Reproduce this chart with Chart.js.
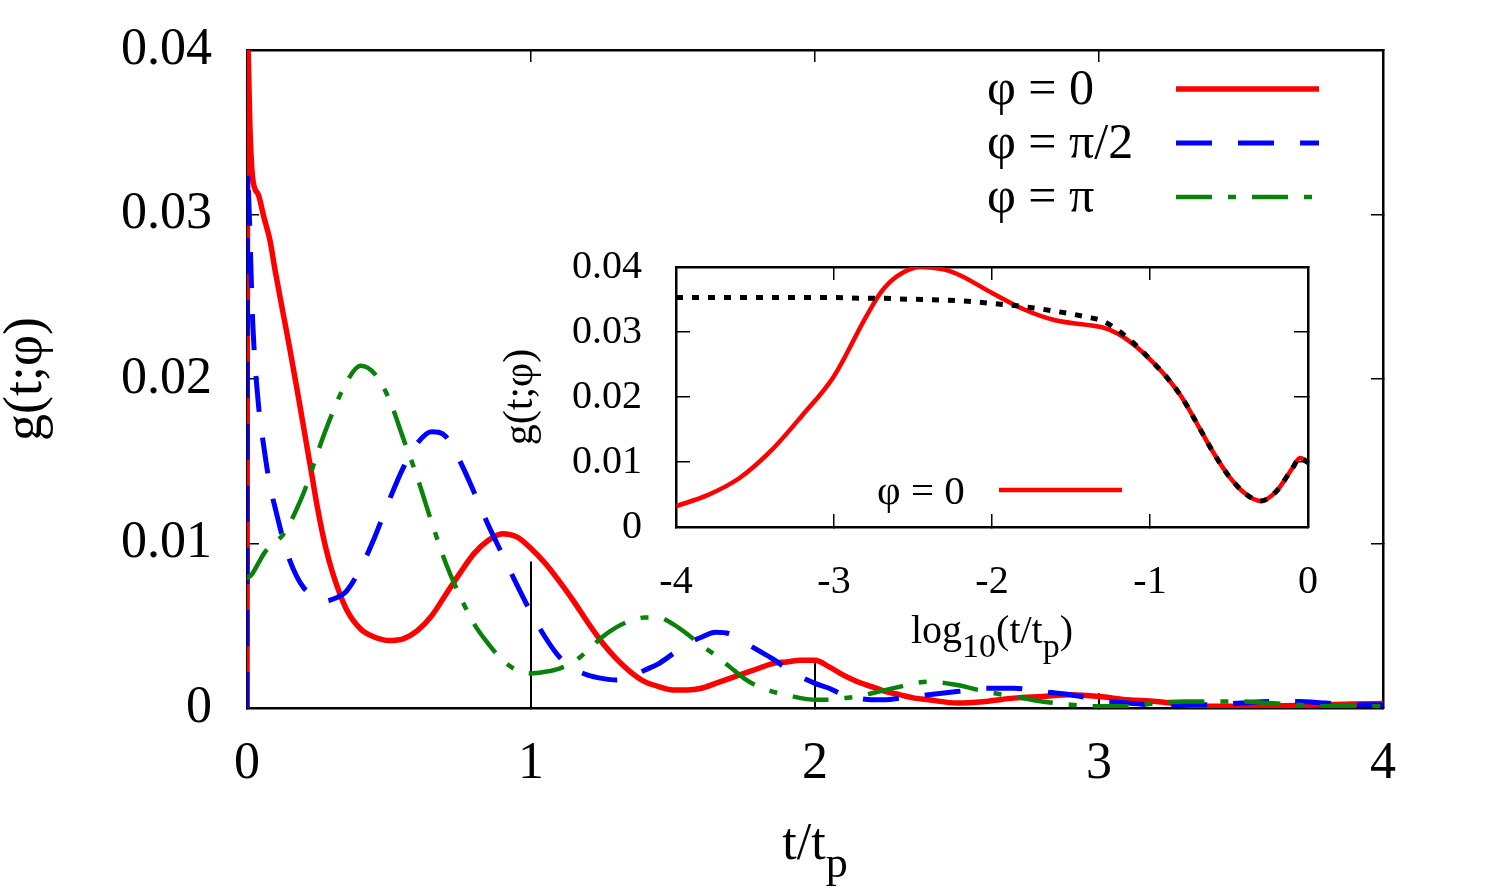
<!DOCTYPE html>
<html><head><meta charset="utf-8">
<script src="https://cdn.jsdelivr.net/npm/chart.js@4/dist/chart.umd.min.js"></script>
<style>
html,body{margin:0;padding:0;background:#fff;}
#wrap{position:relative;width:1510px;height:892px;overflow:hidden;background:#fff;}
#mainCanvas{position:absolute;left:0;top:0;}
#insetCanvas{position:absolute;left:480px;top:240px;}
.ttl{position:absolute;font-family:'Liberation Serif','Times New Roman',serif;color:#000;line-height:1;white-space:nowrap;transform:translateX(-50%);}
.ttl sub{font-size:0.85em;vertical-align:-0.4em;line-height:0;}
</style></head>
<body><div id="wrap">
<canvas id="mainCanvas" width="1510" height="892"></canvas>
<canvas id="insetCanvas" width="860" height="440"></canvas>
<div class="ttl" style="left:815px;top:816px;font-size:52px;">t/t<sub>p</sub></div>
<div class="ttl" style="left:992px;top:610px;font-size:40px;">log<sub>10</sub>(t/t<sub>p</sub>)</div>
</div>
<script>
const FONT = "'Liberation Serif', 'Times New Roman', serif";

// ---------- main panel data ----------
const tMain = [0, 0.001, 0.002, 0.0035, 0.006, 0.01, 0.02, 0.04, 0.06, 0.08, 0.1, 0.125, 0.15, 0.175, 0.2, 0.225, 0.25, 0.275, 0.3,
  0.35, 0.4, 0.45, 0.5, 0.55, 0.6, 0.65, 0.7, 0.75, 0.8, 0.85, 0.9, 0.95, 1.0, 1.05, 1.1, 1.15, 1.2, 1.25, 1.3, 1.35, 1.4,
  1.45, 1.5, 1.55, 1.6, 1.65, 1.7, 1.75, 1.8, 1.85, 1.9, 1.95, 2.0, 2.05, 2.1, 2.15, 2.2, 2.25, 2.3, 2.35, 2.4,
  2.5, 2.6, 2.7, 2.8, 2.9, 3.0, 3.1, 3.2, 3.3, 3.4, 3.5, 3.6, 3.7, 3.8, 3.9, 4.0];

const gPhi0 = [0, 0.022, 0.034, 0.0400, 0.0385, 0.0355, 0.0322, 0.0312, 0.0298, 0.0285, 0.0265, 0.0242, 0.0219, 0.0195, 0.0170, 0.0145, 0.0120, 0.0099, 0.0083,
  0.0060, 0.0048, 0.0043, 0.0041, 0.0042, 0.0047, 0.0056, 0.0069, 0.0082, 0.0094, 0.0102, 0.0106, 0.0104, 0.0097, 0.0088, 0.0077,
  0.0065, 0.0052, 0.0040, 0.0030, 0.0022, 0.0016, 0.0013, 0.0011, 0.0011, 0.0012, 0.0015, 0.0018, 0.0021, 0.0024, 0.0027, 0.0028,
  0.0029, 0.0029, 0.0025, 0.0020, 0.0016, 0.0013, 0.0010, 0.0008, 0.0006, 0.0005,
  0.0003, 0.0004, 0.0006, 0.0007, 0.0008, 0.0007, 0.0005, 0.0004, 0.0002, 0.0001, 0.0001, 0.00012, 0.00015, 0.0002, 0.00025, 0.00027];

const gPhiHalfPi = [0, 0.020, 0.031, 0.0327, 0.031, 0.029, 0.0235, 0.0185, 0.0158, 0.0136, 0.0121, 0.0104, 0.0090, 0.0080, 0.0073, 0.0069, 0.0066, 0.0065, 0.0066,
  0.0071, 0.0085, 0.0104, 0.0126, 0.0146, 0.0161, 0.0168, 0.0165, 0.0150, 0.0131, 0.0111, 0.0093, 0.0075, 0.0058,
  0.0043, 0.0031, 0.0024, 0.0020, 0.0018, 0.0017, 0.0019, 0.0023, 0.0027, 0.0033, 0.0039, 0.0043, 0.0046, 0.0045,
  0.0040, 0.0035, 0.0030, 0.0024, 0.0019, 0.0015, 0.0012, 0.0008, 0.0006, 0.0005, 0.0005, 0.0006, 0.0007, 0.0008,
  0.0010, 0.0012, 0.0012, 0.0010, 0.0008, 0.0005, 0.0003, 0.0002, 0.0002, 0.0002, 0.0003, 0.0004, 0.0004, 0.0003, 0.0002, 0.0002];

const gPhiPi = [0.0079, 0.0079, 0.0079, 0.0079, 0.0080, 0.0080, 0.0082, 0.0088, 0.0094, 0.0098, 0.0101, 0.0105, 0.0112, 0.0121, 0.0131, 0.0143, 0.0156, 0.0168, 0.0179,
  0.0198, 0.0208, 0.0203, 0.0188, 0.0164, 0.0140, 0.0113, 0.0088, 0.0068, 0.0051, 0.0039, 0.0029, 0.0023, 0.0021,
  0.0022, 0.0024, 0.0028, 0.0035, 0.0043, 0.0049, 0.0053, 0.0055, 0.0055, 0.0051, 0.0045, 0.0038, 0.0032, 0.0025,
  0.0018, 0.0013, 0.0010, 0.0008, 0.0006, 0.0005, 0.0005, 0.0006, 0.0007, 0.0009, 0.0011, 0.0013, 0.0015, 0.0016,
  0.0014, 0.0010, 0.0007, 0.0004, 0.0002, 0.0001, 0.0001, 0.0003, 0.0004, 0.0004, 0.0004, 0.0003, 0.0002, 0.0001, 0.0001, 0.0001];

const dropT = [1, 2, 3];
const dropG = [0.0089, 0.0029, 0.0009];

const xTicksMain = ['0', '1', '2', '3', '4'];
const yTicksMain = ['0', '0.01', '0.02', '0.03', '0.04'];
const legendMain = ['φ = 0', 'φ = π/2', 'φ = π'];

// ---------- inset data ----------
const logT = [-4, -3.8, -3.6, -3.4, -3.2, -3.0, -2.8, -2.7, -2.6, -2.45, -2.3, -2.2, -2.0, -1.8, -1.6, -1.4, -1.3, -1.2, -1.1, -1.0,
  -0.9, -0.8, -0.7, -0.6, -0.5, -0.4, -0.3, -0.2, -0.1, -0.05, 0];
const gInsetPhi0 = [0.0032, 0.0049, 0.0075, 0.0117, 0.0172, 0.0232, 0.0322, 0.0362, 0.0386, 0.0400, 0.0396, 0.0387, 0.0360, 0.0335, 0.0318, 0.0311, 0.0307, 0.0297, 0.0280, 0.0258,
  0.0232, 0.0200, 0.0158, 0.0115, 0.0078, 0.0052, 0.0040, 0.0055, 0.0090, 0.0106, 0.0099];
const gInsetFit = [0.0353, 0.0353, 0.0353, 0.0353, 0.0353, 0.0353, 0.0352, 0.0352, 0.0351, 0.0350, 0.0349, 0.0348, 0.0344, 0.0339, 0.0332, 0.0323, 0.0317, 0.0302, 0.0282, 0.0258,
  0.0232, 0.0200, 0.0158, 0.0115, 0.0078, 0.0052, 0.0040, 0.0055, 0.0090, 0.0106, 0.0099];
const xTicksInset = ['-4', '-3', '-2', '-1', '0'];
const yTicksInset = ['0', '0.01', '0.02', '0.03', '0.04'];
const legendInset = ['φ = 0'];

// ---------- helpers ----------
function pts(xs, ys) { return xs.map((x, i) => ({x: x, y: ys[i]})); }
function dropPts() {
  const out = [];
  dropT.forEach((t, i) => { out.push({x: t, y: 0}); out.push({x: t, y: dropG[i]}); out.push({x: t, y: null}); });
  return out;
}
function lineLegend(id, cfg) {
  return {
    id: id,
    afterDatasetsDraw(chart) {
      const ctx = chart.ctx;
      cfg.items.forEach((it, k) => {
        const ds = chart.data.datasets[it.ds];
        const y = cfg.y0 + k * cfg.dy;
        ctx.save();
        ctx.font = cfg.font;
        ctx.fillStyle = '#000';
        ctx.textAlign = 'left';
        ctx.textBaseline = 'middle';
        ctx.fillText(it.text, cfg.textX, y + cfg.textDy);
        ctx.strokeStyle = ds.borderColor;
        ctx.lineWidth = ds.borderWidth;
        ctx.lineCap = 'butt';
        ctx.setLineDash(ds.borderDash || []);
        ctx.beginPath();
        ctx.moveTo(cfg.x1, y);
        ctx.lineTo(cfg.x2, y);
        ctx.stroke();
        ctx.restore();
      });
    }
  };
}
function fixSize(s, w, h) {
  if (w !== null) s.width = w;
  if (h !== null) s.height = h;
  s.paddingLeft = 0; s.paddingRight = 0; s.paddingTop = 0; s.paddingBottom = 0;
}
function frameAxis(pos, min, max, step, tl, borderW) {
  return {
    type: 'linear', position: pos, min: min, max: max,
    ticks: {display: false, stepSize: step, autoSkip: false},
    grid: {display: true, drawOnChartArea: false, drawTicks: true, tickLength: tl, color: '#000', lineWidth: 1.5},
    border: {display: true, color: '#000', width: borderW},
    afterFit: (s) => { if (pos === 'top') fixSize(s, null, 0); else fixSize(s, 0, null); }
  };
}

// ---------- main chart ----------
new Chart(document.getElementById('mainCanvas'), {
  type: 'line',
  data: {
    datasets: [
      {label: legendMain[0], data: pts(tMain, gPhi0), borderColor: '#ff0000', backgroundColor: 'transparent', borderWidth: 5.5, order: 3},
      {label: legendMain[1], data: pts(tMain, gPhiHalfPi), borderColor: '#0000ff', backgroundColor: 'transparent', borderWidth: 5, borderDash: [36, 26], order: 2},
      {label: legendMain[2], data: pts(tMain, gPhiPi), borderColor: '#0a820a', backgroundColor: 'transparent', borderWidth: 4.5, borderDash: [36, 16, 8, 16], order: 1},
      {label: 'marks', data: dropPts(), borderColor: '#000', backgroundColor: 'transparent', borderWidth: 2, order: 4, tension: 0, cubicInterpolationMode: 'default', spanGaps: false}
    ]
  },
  options: {
    responsive: false, animation: false, devicePixelRatio: 1, events: [],
    elements: {
      point: {radius: 0, hoverRadius: 0},
      line: {cubicInterpolationMode: 'monotone', borderCapStyle: 'butt', borderJoinStyle: 'round', fill: false}
    },
    layout: {padding: {left: 0, top: 50, right: 127, bottom: 0}},
    plugins: {legend: {display: false}, tooltip: {enabled: false}},
    scales: {
      x: {
        type: 'linear', position: 'bottom', min: 0, max: 4,
        ticks: {stepSize: 1, autoSkip: false, maxRotation: 0, padding: 37, color: '#000', font: {family: FONT, size: 52},
          callback: (v, i) => xTicksMain[i]},
        grid: {display: true, drawOnChartArea: false, drawTicks: true, tickLength: -12, color: '#000', lineWidth: 1.5},
        border: {display: true, color: '#000', width: 2.5},
        afterFit: (s) => fixSize(s, null, 184)
      },
      y: {
        type: 'linear', position: 'left', min: 0, max: 0.04,
        ticks: {stepSize: 0.01, autoSkip: false, padding: 47, color: '#000', font: {family: FONT, size: 52},
          callback: (v, i) => yTicksMain[i]},
        grid: {display: true, drawOnChartArea: false, drawTicks: true, tickLength: -12, color: '#000', lineWidth: 1.5},
        border: {display: true, color: '#000', width: 2.5},
        title: {display: true, text: 'g(t;φ)', color: '#000', font: {family: FONT, size: 54, lineHeight: 1}, padding: {top: 0, bottom: 0}},
        afterFit: (s) => fixSize(s, 247, null)
      },
      x2: frameAxis('top', 0, 4, 1, -12, 2.5),
      y2: frameAxis('right', 0, 0.04, 0.01, -12, 2.5)
    }
  },
  plugins: [lineLegend('mainLegend', {
    items: [{ds: 0, text: legendMain[0]}, {ds: 1, text: legendMain[1]}, {ds: 2, text: legendMain[2]}],
    textX: 987, x1: 1176, x2: 1319, y0: 89, dy: 54, textDy: 2, font: "50px " + FONT
  })]
});

// ---------- inset chart ----------
new Chart(document.getElementById('insetCanvas'), {
  type: 'line',
  data: {
    datasets: [
      {label: legendInset[0], data: pts(logT, gInsetPhi0), borderColor: '#ff0000', backgroundColor: 'transparent', borderWidth: 4.5, order: 2},
      {label: 'fit', data: pts(logT, gInsetFit), borderColor: '#000000', backgroundColor: 'transparent', borderWidth: 5, borderDash: [7, 9], order: 1}
    ]
  },
  options: {
    responsive: false, animation: false, devicePixelRatio: 1, events: [],
    elements: {
      point: {radius: 0, hoverRadius: 0},
      line: {cubicInterpolationMode: 'monotone', borderCapStyle: 'butt', borderJoinStyle: 'round', fill: false}
    },
    layout: {padding: {left: 0, top: 27, right: 32, bottom: 0}},
    plugins: {legend: {display: false}, tooltip: {enabled: false}},
    scales: {
      x: {
        type: 'linear', position: 'bottom', min: -4, max: 0,
        ticks: {stepSize: 1, autoSkip: false, maxRotation: 0, padding: 44, color: '#000', font: {family: FONT, size: 40},
          callback: (v, i) => xTicksInset[i]},
        grid: {display: true, drawOnChartArea: false, drawTicks: true, tickLength: -13, color: '#000', lineWidth: 1.5},
        border: {display: true, color: '#000', width: 2.5},
        afterFit: (s) => fixSize(s, null, 153)
      },
      y: {
        type: 'linear', position: 'left', min: 0, max: 0.04,
        ticks: {stepSize: 0.01, autoSkip: false, padding: 48, color: '#000', font: {family: FONT, size: 40},
          callback: (v, i) => yTicksInset[i]},
        grid: {display: true, drawOnChartArea: false, drawTicks: true, tickLength: -14, color: '#000', lineWidth: 1.5},
        border: {display: true, color: '#000', width: 2.5},
        title: {display: true, text: 'g(t;φ)', color: '#000', font: {family: FONT, size: 42, lineHeight: 1}, padding: {top: 20, bottom: 0}},
        afterFit: (s) => fixSize(s, 196, null)
      },
      x2: frameAxis('top', -4, 0, 1, -13, 2.5),
      y2: frameAxis('right', 0, 0.04, 0.01, -14, 2.5)
    }
  },
  plugins: [lineLegend('insetLegend', {
    items: [{ds: 0, text: legendInset[0]}],
    textX: 397, x1: 519, x2: 642, y0: 250, dy: 0, textDy: 3, font: "41px " + FONT
  })]
});
</script>
</body></html>
